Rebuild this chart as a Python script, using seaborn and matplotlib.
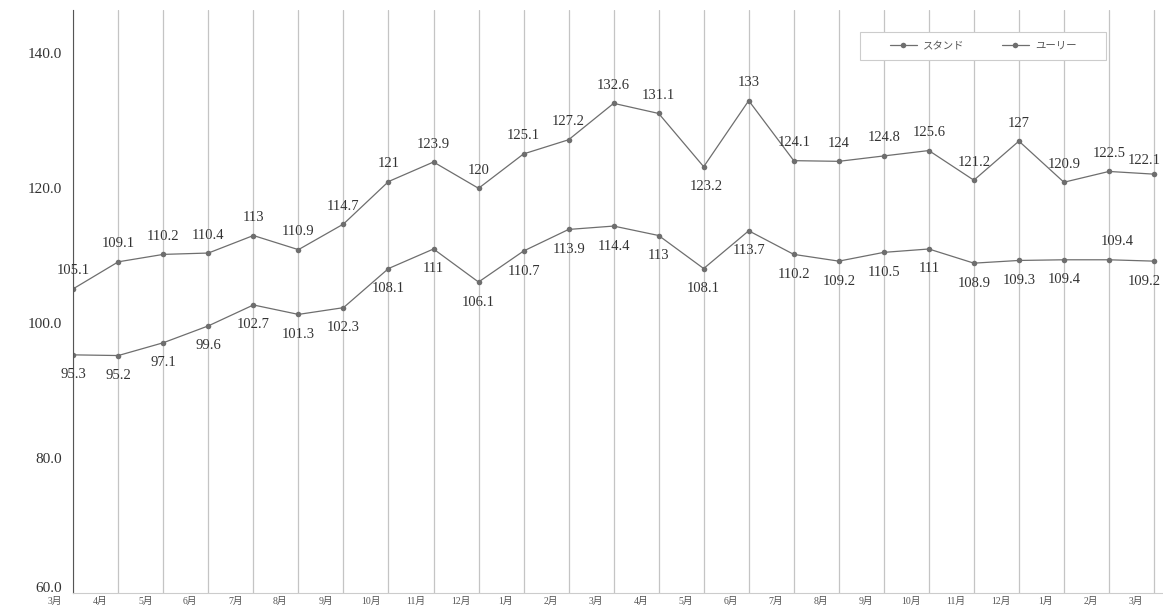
import pandas as pd
import numpy as np
import matplotlib.pyplot as plt
import matplotlib.transforms as mtransforms
from matplotlib.patches import Rectangle
import seaborn as sns

months = ['3月', '4月', '5月', '6月', '7月', '8月', '9月', '10月', '11月', '12月', '1月', '2月',
          '3月', '4月', '5月', '6月', '7月', '8月', '9月', '10月', '11月', '12月', '1月', '2月', '3月']
stand = [105.1, 109.1, 110.2, 110.4, 113, 110.9, 114.7, 121, 123.9, 120, 125.1, 127.2, 132.6,
         131.1, 123.2, 133, 124.1, 124, 124.8, 125.6, 121.2, 127, 120.9, 122.5, 122.1]
yuri = [95.3, 95.2, 97.1, 99.6, 102.7, 101.3, 102.3, 108.1, 111, 106.1, 110.7, 113.9, 114.4,
        113, 108.1, 113.7, 110.2, 109.2, 110.5, 111, 108.9, 109.3, 109.4, 109.4, 109.2]
series_names = ['スタンド', 'ユーリー']

# label offsets in pixels (dx, dy)
off_stand = [(0, 18)] * 25
off_stand[14] = (3, -20)
off_stand[24] = (-10, 14)
off_yuri = [(0, -20)] * 25
off_yuri[23] = (8, 18)
off_yuri[24] = (-10, -20)

sns.set_style('white')
plt.rcParams['font.family'] = ['Liberation Serif', 'Noto Sans CJK JP', 'DejaVu Sans']

df = pd.DataFrame({
    'idx': list(range(len(months))) * 2,
    'value': stand + yuri,
    'series': [series_names[0]] * len(stand) + [series_names[1]] * len(yuri),
})

fig = plt.figure(figsize=(11.63, 6.05), dpi=100)
ax = fig.add_axes([0.063, 0.02, 0.937, 0.963])

sns.lineplot(data=df, x='idx', y='value', hue='series', palette=['#6e6e6e', '#6e6e6e'],
             marker='o', markersize=4, markeredgewidth=0, linewidth=0.9, ax=ax)

for vals, offs in [(stand, off_stand), (yuri, off_yuri)]:
    for i, v in enumerate(vals):
        ax.annotate(f'{v:g}', (i, v), xytext=offs[i], textcoords='offset pixels',
                    ha='center', va='center', fontsize=10.5, color='#333333')

ax.set_xlim(0, 24.2)
ax.set_ylim(60, 146.4)
ax.set_yticks([60, 80, 100, 120, 140])
ax.set_yticklabels([f'{t:.1f}' for t in [60, 80, 100, 120, 140]], fontsize=11, color='#333333')
ax.set_xticks(range(len(months)))
ax.set_xticklabels(months, fontsize=7, color='#555555')
ax.tick_params(axis='both', length=0, pad=8)
ax.tick_params(axis='x', pad=3)
shift = mtransforms.ScaledTranslation(-18 / 100, 0, fig.dpi_scale_trans)
for lab in ax.get_xticklabels():
    lab.set_transform(lab.get_transform() + shift)
ylabs = ax.get_yticklabels()
ylabs[0].set_transform(ylabs[0].get_transform() + mtransforms.ScaledTranslation(0, 6 / 100, fig.dpi_scale_trans))
ax.set_xlabel('')
ax.set_ylabel('')

ax.grid(axis='x', color='#c4c4c4', linewidth=0.9)
ax.grid(axis='y', visible=False)
for s in ['top', 'right']:
    ax.spines[s].set_visible(False)
ax.spines['left'].set_color('#555555')
ax.spines['bottom'].set_color('#cccccc')

# legend box
ax.add_patch(Rectangle((0.722, 0.914), 0.226, 0.048, transform=ax.transAxes,
                       facecolor='white', edgecolor='#cccccc', linewidth=0.8, zorder=4))
leg = ax.legend(loc='center', bbox_to_anchor=(0.835, 0.938), ncol=2, fontsize=7.5,
                frameon=False, handlelength=2.6, handletextpad=0.6, columnspacing=3.6)
leg.set_zorder(5)
for t in leg.get_texts():
    t.set_color('#555555')

plt.savefig('out.png', dpi=100)
